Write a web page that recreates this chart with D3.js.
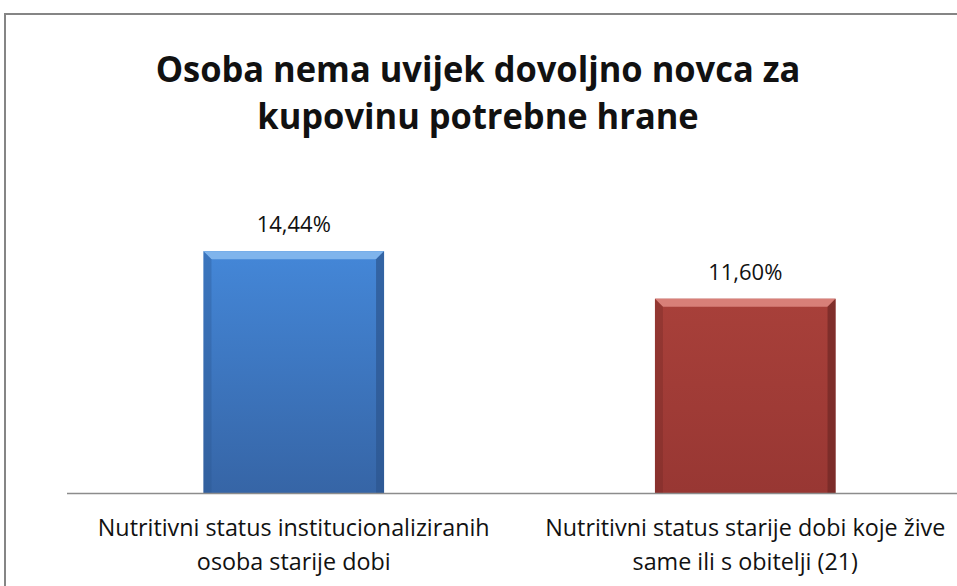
<!DOCTYPE html>
<html>
<head>
<meta charset="utf-8">
<title>Osoba nema uvijek dovoljno novca</title>
<script src="https://d3js.org/d3.v7.min.js"></script>
<style>
  body { margin: 0; background: #fff; }
  text { font-family: "Open Sans", "Noto Sans", sans-serif; fill: #111; }
</style>
</head>
<body>
<script>
// data
var categories = [
  ["Nutritivni status institucionaliziranih", "osoba starije dobi"],
  ["Nutritivni status starije dobi koje žive", "same ili s obitelji (21)"]
];
var values = [14.44, 11.60];
var valueLabels = ["14,44%", "11,60%"];
var titleLines = ["Osoba nema uvijek dovoljno novca za", "kupovinu potrebne hrane"];

var barColors = [
  { top: "#86b9ee", main: "#4487d8", bottom: "#3665a6", side: "#2c568f" },
  { top: "#dd8680", main: "#a8403a", bottom: "#983733", side: "#6f2825" }
];

var W = 957, H = 586;
var svg = d3.select("body").append("svg").attr("width", W).attr("height", H);

// frame
svg.append("rect").attr("x", 5).attr("y", 14).attr("width", W + 10).attr("height", H + 10)
  .attr("fill", "#fff").attr("stroke", "#858585").attr("stroke-width", 2);

var x = d3.scaleBand().domain(d3.range(values.length)).range([68, 971]).padding(0);
var y = d3.scaleLinear().domain([0, 16]).range([493, 225]);

// gradients
var defs = svg.append("defs");
barColors.forEach(function(c, i) {
  var g = defs.append("linearGradient").attr("id", "g" + i).attr("x1", 0).attr("y1", 0).attr("x2", 0).attr("y2", 1);
  g.append("stop").attr("offset", "0%").attr("stop-color", c.main);
  g.append("stop").attr("offset", "100%").attr("stop-color", c.bottom);
});

// fit a text element horizontally to a target width
function fitWidth(sel, target) {
  sel.each(function() {
    var w = this.getComputedTextLength();
    var cx = +this.getAttribute("x");
    var s = target / w;
    d3.select(this).attr("transform", "translate(" + cx + ",0) scale(" + s + ",1) translate(" + (-cx) + ",0)");
  });
}

// title
var title = svg.append("g").selectAll("text").data(titleLines).join("text")
  .attr("x", 478).attr("y", function(d, i) { return 82 + i * 47; })
  .attr("text-anchor", "middle").attr("font-size", 35).attr("font-weight", "bold")
  .attr("fill", "#000")
  .text(function(d) { return d; });
var tScale = 645 / title.node().getComputedTextLength();
title.each(function() {
  d3.select(this).attr("transform", "translate(478,0) scale(" + tScale + ",1) translate(-478,0)");
});

var bw = x.bandwidth() * 0.4;
var bars = svg.append("g").selectAll("g").data(values).join("g")
  .attr("transform", function(d, i) {
    return "translate(" + (x(i) + x.bandwidth() / 2 - bw / 2) + ",0)";
  });

bars.append("rect")
  .attr("y", function(d) { return y(d); })
  .attr("width", bw)
  .attr("height", function(d) { return y(0) - y(d); })
  .attr("fill", function(d, i) { return "url(#g" + i + ")"; });

var bev = 8;
// top bevel
bars.append("path")
  .attr("d", function(d) {
    var t = y(d);
    return "M0," + t + "L" + bw + "," + t + "L" + (bw - bev) + "," + (t + bev) + "L" + bev + "," + (t + bev) + "Z";
  })
  .attr("fill", function(d, i) { return barColors[i].top; }).attr("opacity", 0.9);
// side bevels
bars.append("path")
  .attr("d", function(d) {
    var t = y(d), b = y(0);
    return "M0," + t + "L" + bev + "," + (t + bev) + "L" + bev + "," + b + "L0," + b + "Z";
  })
  .attr("fill", function(d, i) { return barColors[i].side; }).attr("opacity", 0.35);
bars.append("path")
  .attr("d", function(d) {
    var t = y(d), b = y(0);
    return "M" + bw + "," + t + "L" + (bw - bev) + "," + (t + bev) + "L" + (bw - bev) + "," + b + "L" + bw + "," + b + "Z";
  })
  .attr("fill", function(d, i) { return barColors[i].side; }).attr("opacity", 0.7);

// value labels
bars.append("text")
  .attr("x", bw / 2).attr("y", function(d) { return y(d) - 19; })
  .attr("text-anchor", "middle").attr("font-size", 22)
  .text(function(d, i) { return valueLabels[i]; });

// baseline
svg.append("line").attr("x1", 67).attr("x2", W).attr("y1", y(0) + 0.5).attr("y2", y(0) + 0.5)
  .attr("stroke", "#8c8c8c").attr("stroke-width", 1.5);

// category labels
var cat = svg.append("g").selectAll("g").data(categories).join("g");
var catText = cat.selectAll("text").data(function(d, i) {
    return d.map(function(s) { return { s: s, i: i }; });
  }).join("text")
  .attr("x", function(d) { return x(d.i) + x.bandwidth() / 2; })
  .attr("y", function(d, j) { return 536 + j * 34; })
  .attr("text-anchor", "middle").attr("font-size", 23)
  .text(function(d) { return d.s; });
var cScale = 392 / catText.node().getComputedTextLength();
catText.each(function() {
  var cx = +this.getAttribute("x");
  d3.select(this).attr("transform", "translate(" + cx + ",0) scale(" + cScale + ",1) translate(" + (-cx) + ",0)");
});
</script>
</body>
</html>
